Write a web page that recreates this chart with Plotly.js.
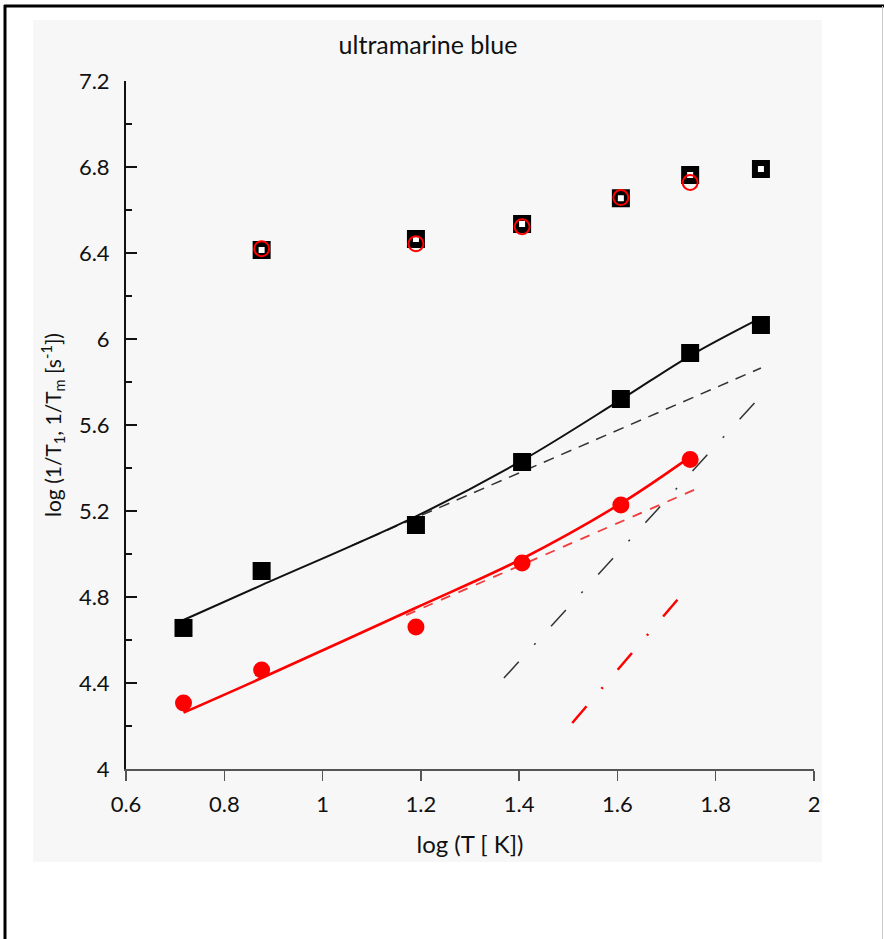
<!DOCTYPE html>
<html>
<head>
<meta charset="utf-8">
<script src="https://cdn.plot.ly/plotly-3.0.1.min.js"></script>
<style>html,body{margin:0;padding:0;background:#fff;}#chart{width:884px;height:939px;}</style>
</head>
<body>
<div id="chart"></div>
<script>
// log T values (x)
const xAll = [0.717, 0.876, 1.19, 1.406, 1.607, 1.748, 1.892];
const xRed = [0.717, 0.876, 1.19, 1.406, 1.607, 1.748];
const xUpper = [0.876, 1.19, 1.406, 1.607, 1.748, 1.892];
const xUpperRed = [0.876, 1.19, 1.406, 1.607, 1.748];

// 1/Tm (upper, open symbols)
const tmBlack = [6.414, 6.465, 6.535, 6.655, 6.763, 6.791];
const tmRed = [6.420, 6.443, 6.522, 6.658, 6.728];

// 1/T1 (lower, filled symbols)
const t1Black = [4.656, 4.921, 5.135, 5.428, 5.721, 5.935, 6.065];
const t1Red = [4.307, 4.460, 4.660, 4.958, 5.228, 5.440];

// fit curves
const fitBlackX = [0.717, 0.876, 1.19, 1.406, 1.607, 1.748, 1.892];
const fitBlackY = [4.693, 4.855, 5.175, 5.435, 5.718, 5.922, 6.098];
const fitRedX = [0.717, 0.876, 1.19, 1.406, 1.607, 1.748];
const fitRedY = [4.262, 4.423, 4.750, 4.978, 5.235, 5.452];

// direct process (dashed)
const dirBlackX = [1.06, 1.892];
const dirBlackY = [5.040, 5.865];
const dirRedX = [1.17, 1.76];
const dirRedY = [4.716, 5.302];

// Raman process (dash-dot)
const ramBlackX = [1.369, 1.892];
const ramBlackY = [4.423, 5.735];
const ramRedX = [1.508, 1.727];
const ramRedY = [4.214, 4.800];

const xTicks = [0.6, 0.8, 1, 1.2, 1.4, 1.6, 1.8, 2];
const yTicks = [4, 4.4, 4.8, 5.2, 5.6, 6, 6.4, 6.8, 7.2];

const FONT = 'Lato, "Open Sans", sans-serif';

const traces = [
  {x: dirBlackX, y: dirBlackY, mode: 'lines', line: {color: '#333', width: 1.5, dash: '11px,8px'}, hoverinfo: 'skip'},
  {x: ramBlackX, y: ramBlackY, mode: 'lines', line: {color: '#333', width: 1.5, dash: '22px,23px,2px,23px'}, hoverinfo: 'skip'},
  {x: dirRedX, y: dirRedY, mode: 'lines', line: {color: '#f03c3c', width: 1.8, dash: '10px,9px'}, hoverinfo: 'skip'},
  {x: ramRedX, y: ramRedY, mode: 'lines', line: {color: '#ff0000', width: 2.5, dash: '22px,23px,2px,23px'}, hoverinfo: 'skip'},
  {x: fitBlackX, y: fitBlackY, mode: 'lines', line: {color: '#111', width: 2, shape: 'spline', smoothing: 1.0}},
  {x: fitRedX, y: fitRedY, mode: 'lines', line: {color: '#ff0000', width: 2.6, shape: 'spline', smoothing: 1.0}},
  {x: xAll, y: t1Black, mode: 'markers', marker: {symbol: 'square', size: 18, color: '#000', line: {width: 0}}},
  {x: xRed, y: t1Red, mode: 'markers', marker: {symbol: 'circle', size: 17, color: '#ff0000', line: {width: 0}}},
  {x: xUpper, y: tmBlack, mode: 'markers', marker: {symbol: 'square', size: 12, color: '#fff', line: {color: '#000', width: 6}}},
  {x: xUpperRed, y: tmRed, mode: 'markers', marker: {symbol: 'circle-open', size: 15, color: '#ff0000', line: {color: '#ff0000', width: 2}}}
];

// pixel helpers for paper coordinates (plot area 126..814 x, 81..769 y)
const px = v => (v - 126) / 688;
const py = v => (769 - v) / 688;

const layout = {
  width: 884, height: 939,
  margin: {l: 126, r: 70, t: 81, b: 170},
  paper_bgcolor: '#ffffff',
  plot_bgcolor: '#f7f7f7',
  showlegend: false,
  font: {family: FONT, color: '#111', size: 22},
  title: {text: 'ultramarine blue', font: {family: FONT, size: 25, color: '#111'}, x: px(428), xref: 'paper', xanchor: 'center', y: 1 - 45 / 939, yanchor: 'middle'},
  xaxis: {
    range: [0.6, 2], tickvals: xTicks, ticktext: xTicks.map(String),
    showgrid: false, zeroline: false,
    showline: true, linecolor: '#555', linewidth: 2,
    ticks: 'outside', ticklen: 10, tickwidth: 1.5, tickcolor: '#555',
    tickfont: {family: FONT, size: 22, color: '#111'},
    ticklabelstandoff: 5,
    title: {text: 'log (T [ K])', font: {family: FONT, size: 24, color: '#111'}, standoff: 20}
  },
  yaxis: {
    range: [4, 7.2], tickvals: yTicks, ticktext: yTicks.map(String),
    showgrid: false, zeroline: false,
    showline: true, linecolor: '#111', linewidth: 2,
    ticks: 'inside', ticklen: 11, tickwidth: 2, tickcolor: '#111',
    minor: {dtick: 0.2, ticks: 'inside', ticklen: 6, tickwidth: 2, tickcolor: '#111', showgrid: false},
    tickfont: {family: FONT, size: 22, color: '#111'},
    ticklabelstandoff: 10,
    title: {text: 'log (1/T<sub>1</sub>, 1/T<sub>m</sub> [s<sup>-1</sup>])', font: {family: FONT, size: 21, color: '#111'}, standoff: 12}
  },
  shapes: [
    {type: 'rect', xref: 'paper', yref: 'paper', x0: px(33), x1: px(822), y0: py(862), y1: py(20), fillcolor: '#f7f7f7', line: {width: 0}, layer: 'below'},
    {type: 'line', xref: 'paper', yref: 'paper', x0: px(5), x1: px(5), y0: py(950), y1: py(5), line: {color: '#000', width: 3}},
    {type: 'line', xref: 'paper', yref: 'paper', x0: px(4), x1: px(890), y0: py(6), y1: py(6), line: {color: '#000', width: 3}},
    {type: 'line', xref: 'paper', yref: 'paper', x0: px(882.5), x1: px(882.5), y0: py(950), y1: py(6), line: {color: '#ccc', width: 1}}
  ]
};

Plotly.newPlot('chart', traces, layout, {displayModeBar: false, staticPlot: true});
</script>
</body>
</html>
